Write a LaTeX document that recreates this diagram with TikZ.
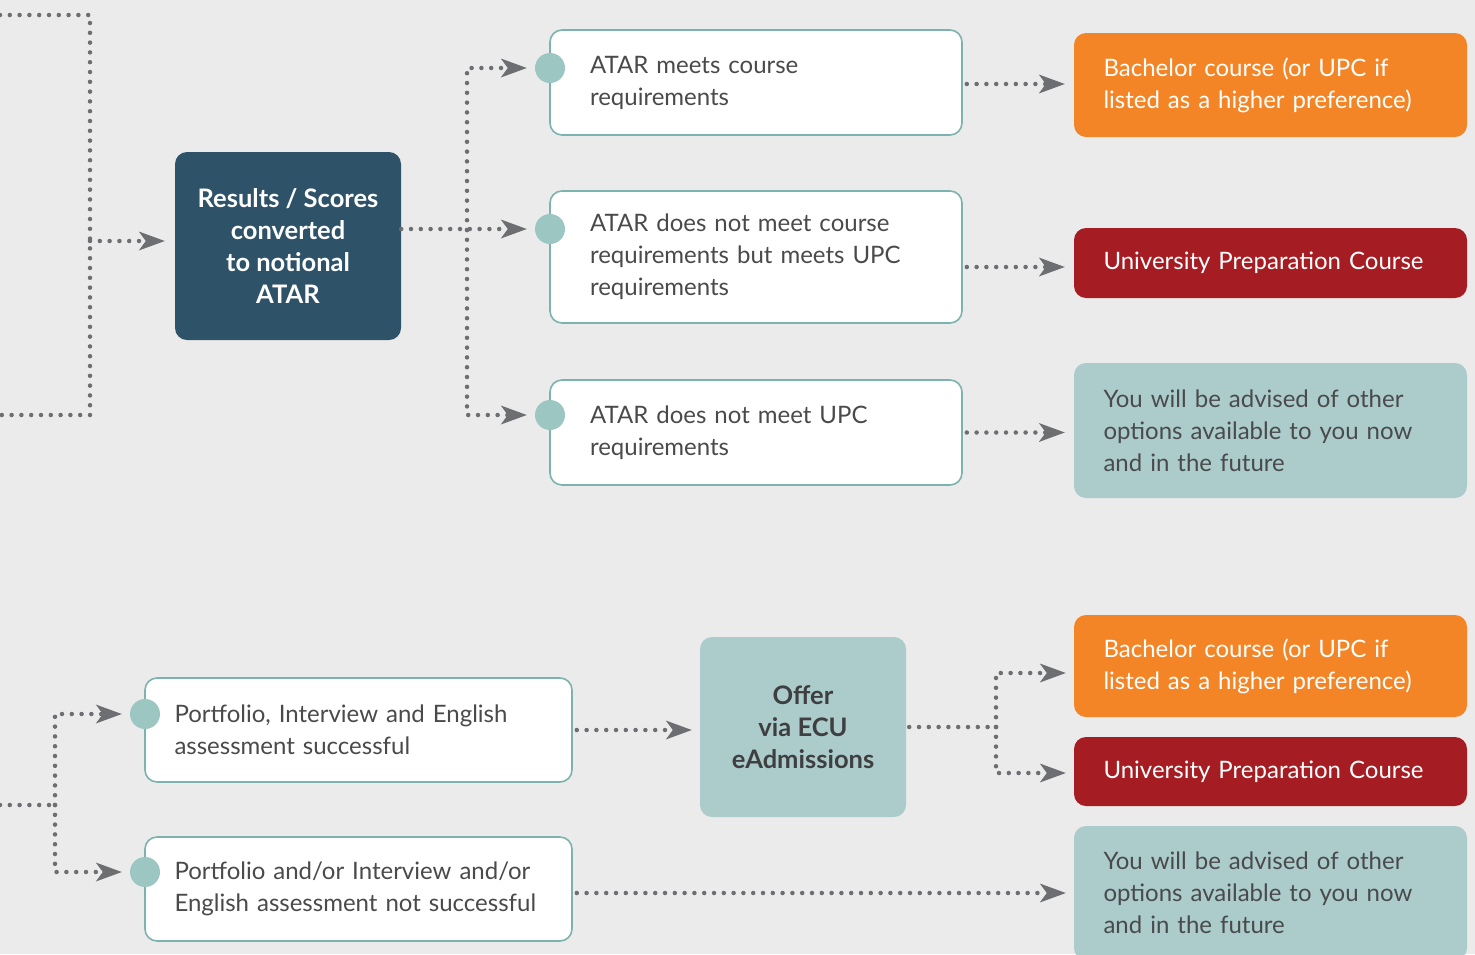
\documentclass[tikz,border=0pt]{standalone}
\usepackage{fontspec}
\setmainfont{Lato}
\usetikzlibrary{arrows.meta, calc}

\definecolor{bggray}{HTML}{EBEBEB}
\definecolor{navy}{HTML}{2E5268}
\definecolor{ecuorange}{HTML}{F38526}
\definecolor{ecured}{HTML}{A51C22}
\definecolor{paleteal}{HTML}{ABCCCB}
\definecolor{dotteal}{HTML}{9BC6C2}
\definecolor{rimteal}{HTML}{7DB3AE}
\definecolor{dotgray}{HTML}{6D6E71}
\definecolor{inkgray}{HTML}{4A4A4C}

\begin{document}
\begin{tikzpicture}[x=1pt, y=-1pt,
	every node/.style={font=\fontsize{24}{32}\selectfont},
	dots/.style={draw=dotgray, line width=4.5pt, line cap=round, dash pattern=on 0pt off 9.8pt},
	flow/.style={dots, -{Stealth[length=26pt, width=19pt, inset=7pt, line width=0pt]}},
	choice/.style={draw=rimteal, line width=1.6pt, fill=white, rounded corners=12pt, text=inkgray, align=left, inner xsep=0pt},
	result/.style={rounded corners=12pt, align=left, inner xsep=0pt, text width=334pt, minimum width=393pt},
	blob/.style={circle, fill=dotteal, inner sep=0pt, minimum size=30pt},
	heavy/.style={font=\fontsize{25.5}{32}\selectfont\bfseries, align=center, rounded corners=12pt},
	]

	\fill[bggray] (0,0) rectangle (1475,954);
	\useasboundingbox (0,0) rectangle (1475,954);

	% upper branch
	\node[heavy, fill=navy, text=white, minimum width=226pt, minimum height=188pt] (rescore) at (288,246) {Results / Scores\\converted\\to notional\\ATAR};

	\node[choice, minimum width=412pt, text width=332pt, minimum height=105pt] (meets) at (756,82.5) {ATAR meets course\\requirements};
	\node[choice, minimum width=412pt, text width=332pt, minimum height=132pt] (upcok) at (756,257) {ATAR does not meet course\\requirements but meets UPC\\requirements};
	\node[choice, minimum width=412pt, text width=332pt, minimum height=105pt] (noupc) at (756,432.5) {ATAR does not meet UPC\\requirements};

	\node[blob] (dotA) at (550,68) {};
	\node[blob] (dotB) at (550,229) {};
	\node[blob] (dotC) at (550,415) {};

	\node[result, fill=ecuorange, text=white, minimum height=104pt] (bach1) at (1270.5,85) {Bachelor course (or UPC if\\listed as a higher preference)};
	\node[result, fill=ecured, text=white, minimum height=70pt] (upc1) at (1270.5,263) {University Preparation Course};
	\node[result, fill=paleteal, text=inkgray, minimum height=135pt] (advise1) at (1270.5,430.5) {You will be advised of other\\options available to you now\\and in the future};

	\coordinate (fromTop) at (0,15);
	\coordinate (fromMid) at (0,415);
	\coordinate (trunk) at (90,241);
	\coordinate (split) at (467,230);

	\draw[dots] (fromTop) -| (trunk) |- (fromMid);
	\draw[flow, shorten >=10pt] (trunk) -- (trunk -| rescore.west);
	\draw[flow, shorten >=8pt] (rescore.east |- dotB) -- (dotB);
	\draw[flow, shorten >=8pt] (split) |- (dotA);
	\draw[flow, shorten >=8pt] (split) |- (dotC);

	\draw[flow, shorten <=4pt, shorten >=9pt] ($(meets.east)+(0,1.5)$) -- ($(meets.east -| bach1.west)+(0,1.5)$);
	\draw[flow, shorten <=4pt, shorten >=9pt] ($(upcok.east)+(0,10)$) -- ($(upcok.east -| upc1.west)+(0,10)$);
	\draw[flow, shorten <=4pt, shorten >=9pt] (noupc.east) -- (noupc.east -| advise1.west);

	% lower branch
	\node[choice, minimum width=427pt, text width=368pt, minimum height=104pt] (pass) at (358.5,730) {Portfolio, Interview and English\\assessment successful};
	\node[choice, minimum width=427pt, text width=368pt, minimum height=104pt] (fail) at (358.5,889) {Portfolio and/or Interview and/or\\English assessment not successful};

	\node[blob] (dotD) at (145,714) {};
	\node[blob] (dotE) at (145,872) {};

	\node[heavy, fill=paleteal, text=inkgray!85!black, minimum width=206pt, minimum height=180pt] (offer) at (803,727) {Offer\\via ECU\\eAdmissions};

	\node[result, fill=ecuorange, text=white, minimum height=102pt] (bach2) at (1270.5,666) {Bachelor course (or UPC if\\listed as a higher preference)};
	\node[result, fill=ecured, text=white, minimum height=69pt] (upc2) at (1270.5,771.5) {University Preparation Course};
	\node[result, fill=paleteal, text=inkgray, minimum height=134pt] (advise2) at (1270.5,893) {You will be advised of other\\options available to you now\\and in the future};

	\coordinate (fromLow) at (0,805);
	\coordinate (trunkLow) at (55,805);
	\coordinate (fork) at (996,727);

	\draw[dots] (fromLow) -- (trunkLow);
	\draw[flow, shorten >=8pt] (trunkLow) |- (dotD);
	\draw[flow, shorten >=8pt] (trunkLow) |- (dotE);

	\draw[flow, shorten <=4pt, shorten >=8pt] (pass.east) -- (pass.east -| offer.west);
	\draw[dots, shorten <=3pt] (offer.east |- fork) -- (fork);
	\draw[flow, shorten >=8pt] (fork) |- ($(bach2.west)+(0,7)$);
	\draw[flow, shorten >=8pt] (fork) |- ($(upc2.west)+(0,1.5)$);
	\draw[flow, shorten <=4pt, shorten >=8pt] (fail.east |- advise2) -- (advise2.west);
\end{tikzpicture}
\end{document}
